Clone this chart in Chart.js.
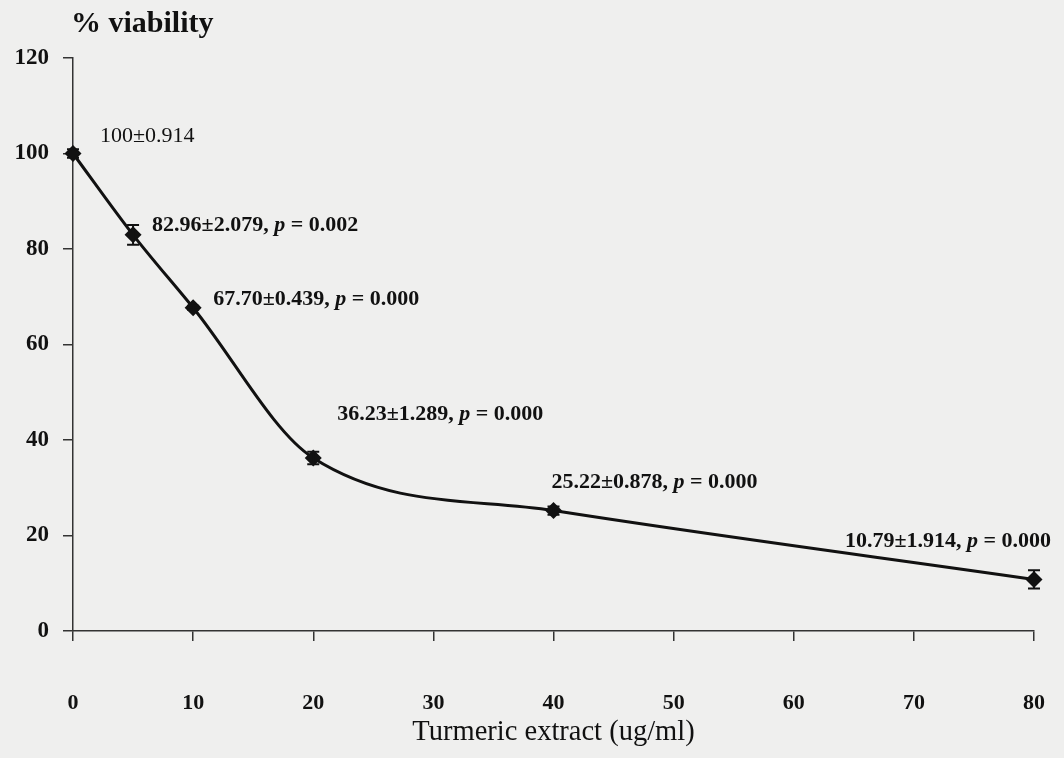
<!DOCTYPE html>
<html>
<head>
<meta charset="utf-8">
<script src="https://cdn.jsdelivr.net/npm/chart.js@4.4.1/dist/chart.umd.min.js"></script>
<style>
  html, body { margin: 0; padding: 0; background: #efefee; }
  canvas { display: block; }
</style>
</head>
<body>
<canvas id="chart" width="1064" height="758"></canvas>
<script>
// data
const doses = [0, 5, 10, 20, 40, 80];
const viability = [100, 82.96, 67.70, 36.23, 25.22, 10.79];
const meanText = ['100', '82.96', '67.70', '36.23', '25.22', '10.79'];
const sdValues = [0.914, 2.079, 0.439, 1.289, 0.878, 1.914];
const pValues = [null, '0.002', '0.000', '0.000', '0.000', '0.000'];
const xTicks = [0, 10, 20, 30, 40, 50, 60, 70, 80];
const yTicks = [0, 20, 40, 60, 80, 100, 120];

const SERIF = '"Liberation Serif", "Times New Roman", serif';
const INK = '#111';

// where each point label sits relative to its marker
const labelPlace = [
  { dx: 27, dy: -17, align: 'left', bold: false },
  { dx: 19, dy: -10, align: 'left', bold: true },
  { dx: 20, dy: -8, align: 'left', bold: true },
  { dx: 24, dy: -44, align: 'left', bold: true },
  { dx: -2, dy: -28, align: 'left', bold: true },
  { dx: 17, dy: -38, align: 'right', bold: true },
];

const errorBars = {
  id: 'errorBars',
  afterDatasetsDraw(chart) {
    const { ctx, scales: { x, y } } = chart;
    ctx.save();
    ctx.strokeStyle = INK;
    ctx.lineWidth = 2;
    doses.forEach((d, i) => {
      const px = x.getPixelForValue(d);
      const top = y.getPixelForValue(viability[i] + sdValues[i]);
      const bot = y.getPixelForValue(viability[i] - sdValues[i]);
      ctx.beginPath();
      ctx.moveTo(px, top); ctx.lineTo(px, bot);
      ctx.moveTo(px - 6, top); ctx.lineTo(px + 6, top);
      ctx.moveTo(px - 6, bot); ctx.lineTo(px + 6, bot);
      ctx.stroke();
    });
    ctx.restore();
  }
};

const pointLabels = {
  id: 'pointLabels',
  afterDraw(chart) {
    const ctx = chart.ctx;
    const meta = chart.getDatasetMeta(0);
    ctx.save();
    ctx.fillStyle = INK;
    ctx.textBaseline = 'middle';
    ctx.textAlign = 'left';
    meta.data.forEach((pt, i) => {
      const pl = labelPlace[i];
      const w = pl.bold ? 'bold ' : '';
      const fNormal = w + '22px ' + SERIF;
      const fItalic = 'italic ' + w + '22px ' + SERIF;
      const parts = [[meanText[i] + '\u00b1' + sdValues[i].toFixed(3), fNormal]];
      if (pValues[i] !== null) {
        parts[0][0] += ', ';
        parts.push(['p', fItalic]);
        parts.push([' = ' + pValues[i], fNormal]);
      }
      let total = 0;
      parts.forEach(p => { ctx.font = p[1]; total += ctx.measureText(p[0]).width; });
      let tx = pt.x + pl.dx;
      if (pl.align === 'right') tx -= total;
      const ty = pt.y + pl.dy;
      parts.forEach(p => {
        ctx.font = p[1];
        ctx.fillText(p[0], tx, ty);
        tx += ctx.measureText(p[0]).width;
      });
    });
    // y axis caption at top-left
    ctx.font = 'bold 30px ' + SERIF;
    ctx.textBaseline = 'alphabetic';
    ctx.fillText('% viability', 71, 32);
    ctx.restore();
  }
};

new Chart(document.getElementById('chart'), {
  type: 'line',
  data: {
    datasets: [{
      data: doses.map((d, i) => ({ x: d, y: viability[i] })),
      borderColor: INK,
      borderWidth: 3,
      cubicInterpolationMode: 'monotone',
      pointStyle: 'rectRot',
      pointRadius: 8.5,
      pointBackgroundColor: INK,
      pointBorderWidth: 0,
      clip: false,
    }]
  },
  options: {
    responsive: false,
    devicePixelRatio: 1,
    animation: false,
    layout: { padding: { top: 58, right: 30, left: 0, bottom: 0 } },
    plugins: {
      legend: { display: false },
      tooltip: { enabled: false },
    },
    scales: {
      x: {
        type: 'linear',
        min: 0,
        max: 80,
        afterBuildTicks: s => { s.ticks = xTicks.map(v => ({ value: v })); },
        afterFit: s => { s.height = 127; s.paddingLeft = 0; s.paddingRight = 0; },
        grid: { drawOnChartArea: false, tickLength: 10, color: '#333', lineWidth: 1.5 },
        border: { color: '#333', width: 1.5 },
        ticks: { padding: 49, color: INK, font: { family: SERIF, size: 22, weight: 'bold' } },
        title: {
          display: true,
          text: 'Turmeric extract (ug/ml)',
          color: INK,
          font: { family: SERIF, size: 28.5 },
          padding: { top: 0, bottom: 8 },
        },
      },
      y: {
        min: 0,
        max: 120,
        afterBuildTicks: s => { s.ticks = yTicks.map(v => ({ value: v })); },
        afterFit: s => { s.width = 73; },
        grid: { drawOnChartArea: false, tickLength: 10, color: '#333', lineWidth: 1.5 },
        border: { color: '#333', width: 1.5 },
        ticks: { padding: 14, color: INK, font: { family: SERIF, size: 23, weight: 'bold' } },
      },
    },
  },
  plugins: [errorBars, pointLabels],
});
</script>
</body>
</html>
